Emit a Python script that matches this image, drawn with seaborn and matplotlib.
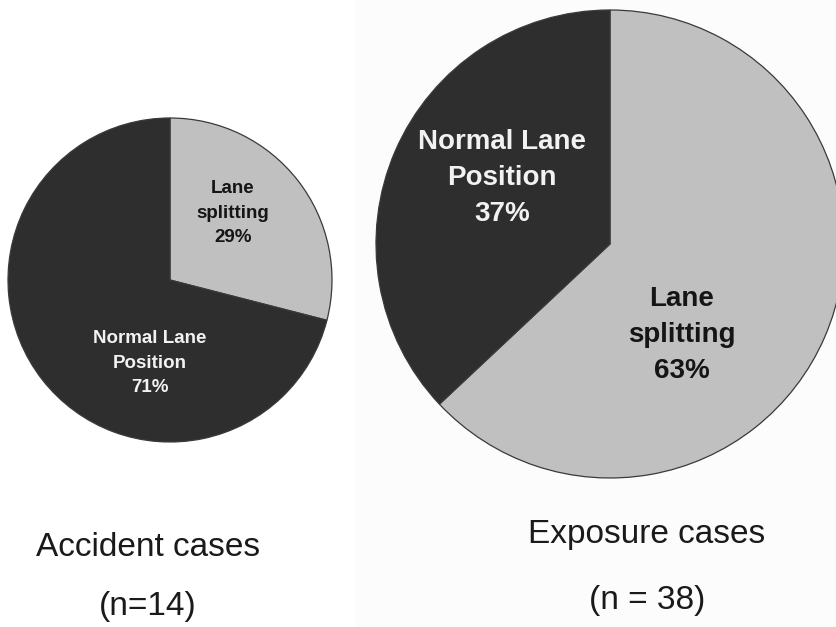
import matplotlib
matplotlib.use("Agg")
import matplotlib.pyplot as plt
from matplotlib.patches import Rectangle
import seaborn as sns

# Lane position of motorcyclists: accident vs exposure cases
categories = ["Lane splitting", "Normal Lane Position"]
label_lines = ["Lane\nsplitting", "Normal Lane\nPosition"]
accident_pct = [29, 71]
exposure_pct = [63, 37]
group_titles = ["Accident cases", "Exposure cases"]
group_counts = ["(n=14)", "(n = 38)"]

sns.set_theme(style="white")
plt.rcParams["font.family"] = ["Liberation Sans", "DejaVu Sans"]

W, H = 836, 627
fig = plt.figure(figsize=(W / 100, H / 100), dpi=100)
fig.patch.set_facecolor("white")
fig.add_artist(Rectangle((355 / W, 0), 1 - 355 / W, 1, transform=fig.transFigure,
                         facecolor="#fcfcfc", edgecolor="none", zorder=0))

ax = fig.add_axes([0, 0, 1, 1])
ax.set_facecolor("none")

colors = sns.color_palette(["#c0c0c0", "#2e2e2e"])
text_colors = ["#151515", "#f2f2f2"]


def draw_pie(values, center, radius, label_pos, fontsize, spacing):
    ax.pie(values, colors=colors, startangle=90, counterclock=False,
           center=center, radius=radius,
           wedgeprops=dict(edgecolor="#3a3a3a", linewidth=0.9))
    for (dx, dy), lines, val, tc in zip(label_pos, label_lines, values, text_colors):
        ax.text(center[0] + dx * radius, center[1] + dy * radius,
                f"{lines}\n{val}%", ha="center", va="center",
                fontsize=fontsize, fontweight="bold", color=tc,
                linespacing=spacing)


# Accident cases (small pie, left)
draw_pie(accident_pct, (170, H - 280), 162,
         [(63 / 162, 67 / 162), (-20 / 162, -83 / 162)], 13.5, 1.6)
# Exposure cases (large pie, right)
draw_pie(exposure_pct, (610, H - 244), 234,
         [(72 / 234, -91 / 234), (-108 / 234, 66 / 234)], 20, 1.5)

title_y = [H - 547, H - 534]
count_y = [H - 607, H - 600]
title_x = [148, 647]
for tx, ty, cy, t, c in zip(title_x, title_y, count_y, group_titles, group_counts):
    ax.text(tx, ty, t, ha="center", va="center", fontsize=24, color="#1a1a1a")
    ax.text(tx, cy, c, ha="center", va="center", fontsize=24, color="#1a1a1a")

ax.set_xlim(0, W)
ax.set_ylim(0, H)
ax.set_aspect("equal")
ax.axis("off")

fig.savefig("out.png", dpi=100)
